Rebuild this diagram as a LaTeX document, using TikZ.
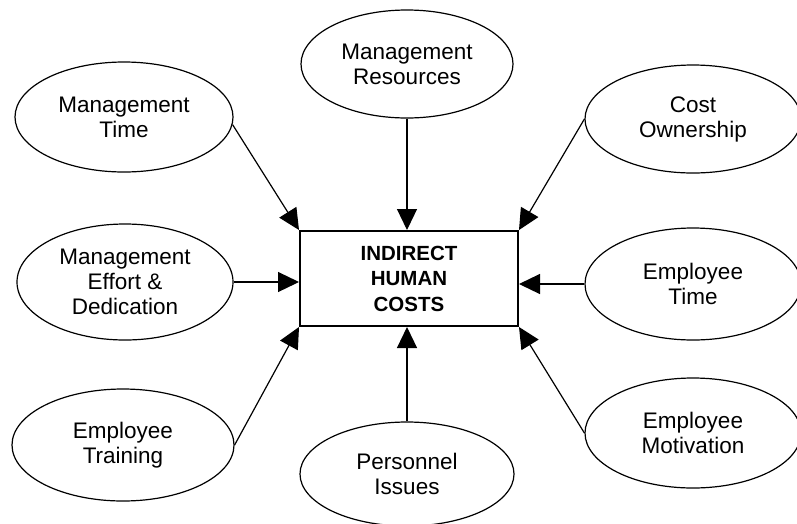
\documentclass[tikz,border=0pt]{standalone}
\usepackage{fontspec}
\setmainfont{Liberation Sans}
\usetikzlibrary{shapes.geometric,arrows.meta}
\begin{document}
\begin{tikzpicture}[x=1pt,y=-1pt,
  oval/.style={draw, ellipse, line width=1.2pt, inner sep=0pt, align=center,
    font=\fontsize{22.5}{25}\selectfont},
  centerbox/.style={draw, rectangle, line width=2pt, inner sep=0pt, align=center,
    minimum width=218pt, minimum height=95pt,
    font=\bfseries\fontsize{20.5}{25.5}\selectfont},
  arr/.style={line width=1.2pt, -{Triangle[length=21pt,width=20pt]}}
]
\useasboundingbox (0,0) rectangle (797,523);
\clip (0,0) rectangle (797,523);
\node[centerbox] (box) at (409,278.5) {INDIRECT\\HUMAN\\COSTS};
\node[oval, minimum width=212pt, minimum height=108pt] (mr) at (407,64) {Management\\Resources};
\node[oval, minimum width=218pt, minimum height=110pt] (mt) at (124,117) {Management\\Time};
\node[oval, minimum width=216pt, minimum height=108pt] (co) at (693,119) {Cost\\Ownership};
\node[oval, minimum width=216pt, minimum height=116pt] (me) at (125,282) {Management\\Effort \&\\Dedication};
\node[oval, minimum width=216pt, minimum height=112pt] (et) at (693,284) {Employee\\Time};
\node[oval, minimum width=222pt, minimum height=112pt] (etr) at (123,445) {Employee\\Training};
\node[oval, minimum width=216pt, minimum height=110pt] (em) at (693,433) {Employee\\Motivation};
\node[oval, minimum width=214pt, minimum height=104pt] (pi) at (407,474) {Personnel\\Issues};
\draw[arr] (mr.south) -- (mr.south |- box.north);
\draw[arr] (mt.-4) -- (box.north west);
\draw[arr] (co.west) -- (box.north east);
\draw[arr] (me.east) -- (me.east -| box.west);
\draw[arr] (et.west) -- (et.west -| box.east);
\draw[arr] (etr.east) -- (box.south west);
\draw[arr] (em.west) -- (box.south east);
\draw[arr] (pi.north) -- (pi.north |- box.south);
\end{tikzpicture}
\end{document}
